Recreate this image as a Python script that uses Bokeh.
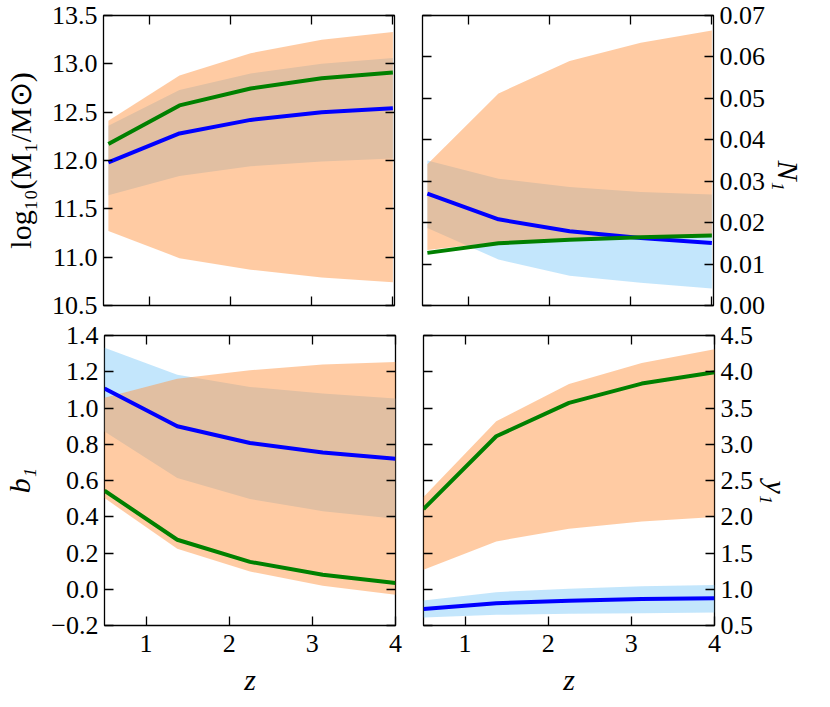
import math
from bokeh.plotting import figure
from bokeh.models import LinearAxis, FixedTicker, CustomJSTickFormatter, Range1d
from bokeh.layouts import column, row
from bokeh.embed import file_html
from bokeh.resources import INLINE

# ---- data ----
z = [0.5, 1.375, 2.25, 3.125, 4.0]

m1_blue = [11.98, 12.28, 12.42, 12.50, 12.54]
m1_green = [12.17, 12.57, 12.745, 12.85, 12.91]
m1_blue_lo = [11.64, 11.84, 11.94, 11.99, 12.02]
m1_blue_hi = [12.36, 12.73, 12.90, 13.00, 13.06]
m1_orange_lo = [11.27, 10.99, 10.87, 10.79, 10.74]
m1_orange_hi = [12.41, 12.88, 13.11, 13.25, 13.33]

n1_blue = [0.0270, 0.0208, 0.0179, 0.0163, 0.0151]
n1_green = [0.0127, 0.0150, 0.0159, 0.0165, 0.0169]
n1_blue_lo = [0.0187, 0.0111, 0.0072, 0.0055, 0.0041]
n1_blue_hi = [0.0350, 0.0306, 0.0286, 0.0274, 0.0268]
n1_orange_lo = [0.0134, 0.0153, 0.0161, 0.0166, 0.0169]
n1_orange_hi = [0.0341, 0.0512, 0.0590, 0.0634, 0.0664]

b1_blue = [1.107, 0.899, 0.807, 0.755, 0.720]
b1_green = [0.544, 0.273, 0.151, 0.080, 0.034]
b1_blue_lo = [0.871, 0.614, 0.498, 0.431, 0.389]
b1_blue_hi = [1.332, 1.184, 1.116, 1.080, 1.052]
b1_orange_lo = [0.503, 0.223, 0.098, 0.019, -0.030]
b1_orange_hi = [1.056, 1.162, 1.208, 1.240, 1.254]

y1_blue = [0.726, 0.808, 0.840, 0.864, 0.877]
y1_green = [2.107, 3.110, 3.570, 3.837, 3.994]
y1_blue_lo = [0.610, 0.647, 0.661, 0.670, 0.680]
y1_blue_hi = [0.845, 0.960, 1.006, 1.040, 1.060]
y1_orange_lo = [1.269, 1.660, 1.835, 1.936, 1.996]
y1_orange_hi = [2.272, 3.317, 3.830, 4.120, 4.310]

x_ticks = [1, 2, 3, 4]
m1_ticks = [10.5, 11.0, 11.5, 12.0, 12.5, 13.0, 13.5]
n1_ticks = [0.00, 0.01, 0.02, 0.03, 0.04, 0.05, 0.06, 0.07]
b1_ticks = [-0.2, 0.0, 0.2, 0.4, 0.6, 0.8, 1.0, 1.2, 1.4]
y1_ticks = [0.5, 1.0, 1.5, 2.0, 2.5, 3.0, 3.5, 4.0, 4.5]

FONT = "Liberation Serif"
TICK_SIZE = "26px"
LABEL_SIZE = "30px"
ORANGE = "#ff9747"
BLUE_BAND = "#87cefa"


def fmt(dec):
    return CustomJSTickFormatter(args=dict(d=dec),
                                 code="return tick.toFixed(d).replace('-', '\u2212');")


def style_axis(ax, ticks, dec, show_labels):
    ax.ticker = FixedTicker(ticks=ticks)
    ax.formatter = fmt(dec)
    ax.axis_line_color = None
    ax.major_tick_in = 9
    ax.major_tick_out = 0
    ax.major_tick_line_color = "black"
    ax.major_tick_line_width = 1.3
    ax.minor_tick_line_color = None
    ax.major_label_text_font = FONT
    if show_labels:
        ax.major_label_text_color = "black"
        ax.major_label_text_font_size = TICK_SIZE
        ax.major_label_standoff = 6
    else:
        ax.major_label_text_color = None
        ax.major_label_text_font_size = "1px"
        ax.major_label_standoff = 0
    ax.axis_label_text_font = FONT
    ax.axis_label_text_font_size = LABEL_SIZE
    ax.axis_label_text_color = "black"
    return ax


def panel(xr, yr, yticks, ydec, yside, xlabels, ylabel, ylabel_italic,
          blo, bhi, olo, ohi, bl, gl, borders):
    p = figure(frame_width=291, frame_height=290,
               x_range=Range1d(*xr), y_range=Range1d(*yr),
               x_axis_location=None, y_axis_location=None,
               output_backend="svg", toolbar_location=None,
               min_border_left=borders[0], min_border_right=borders[1],
               min_border_top=borders[2], min_border_bottom=borders[3])
    p.grid.visible = False
    p.outline_line_color = "black"
    p.outline_line_width = 1.3
    p.background_fill_color = "white"
    p.border_fill_color = "white"

    # x axes
    xb = style_axis(LinearAxis(), x_ticks, 0, xlabels)
    if xlabels:
        xb.axis_label = "z"
        xb.axis_label_text_font_style = "italic"
        xb.axis_label_standoff = 8
        xb.major_label_standoff = 9
    p.add_layout(xb, "below")
    p.add_layout(style_axis(LinearAxis(), x_ticks, 0, False), "above")

    # y axes
    ymain = style_axis(LinearAxis(), yticks, ydec, True)
    ymain.axis_label = ylabel
    ymain.axis_label_text_font_style = "italic" if ylabel_italic else "normal"
    ymain.axis_label_standoff = 12
    other = "right" if yside == "left" else "left"
    if yside == "right":
        ymain.axis_label_orientation = -math.pi / 2
        ymain.axis_label_standoff = 20
    p.add_layout(ymain, yside)
    p.add_layout(style_axis(LinearAxis(), yticks, ydec, False), other)

    # bands and lines
    p.varea(x=z, y1=blo, y2=bhi, fill_color=BLUE_BAND, fill_alpha=0.5)
    p.varea(x=z, y1=olo, y2=ohi, fill_color=ORANGE, fill_alpha=0.5)
    p.line(z, bl, line_color="#0000ff", line_width=4)
    p.line(z, gl, line_color="#008000", line_width=4)
    return p


top_x = (0.44, 4.02)
bot_x = (0.5, 4.0)

tl = panel(top_x, (10.5, 13.5), m1_ticks, 1, "left", False,
           "log\u2081\u2080(M\u2081/M\u2299)", False,
           m1_blue_lo, m1_blue_hi, m1_orange_lo, m1_orange_hi, m1_blue, m1_green,
           (98, 14, 15, 15))
tr = panel(top_x, (0.0, 0.07), n1_ticks, 2, "right", False,
           "N\u2081", True,
           n1_blue_lo, n1_blue_hi, n1_orange_lo, n1_orange_hi, n1_blue, n1_green,
           (14, 100, 15, 15))
bl = panel(bot_x, (-0.2, 1.4), b1_ticks, 1, "left", True,
           "b\u2081", True,
           b1_blue_lo, b1_blue_hi, b1_orange_lo, b1_orange_hi, b1_blue, b1_green,
           (98, 14, 15, 65))
br = panel(bot_x, (0.5, 4.5), y1_ticks, 1, "right", True,
           "y\u2081", True,
           y1_blue_lo, y1_blue_hi, y1_orange_lo, y1_orange_hi, y1_blue, y1_green,
           (14, 100, 15, 65))

layout = column(row(tl, tr), row(bl, br))

open("out.html", "w").write(file_html(layout, INLINE))
